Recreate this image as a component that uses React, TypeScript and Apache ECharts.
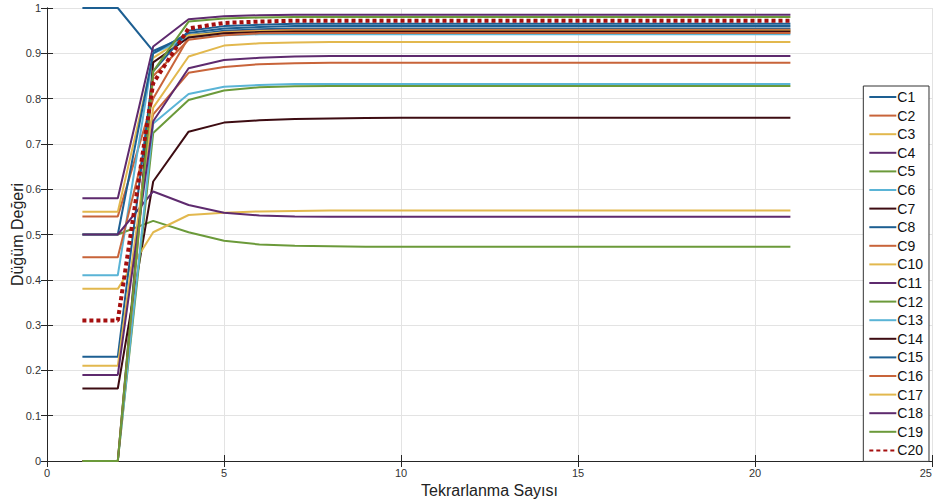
import React, { useEffect, useRef } from "react";
import * as echarts from "echarts";

const iterations = [1, 2, 3, 4, 5, 6, 7, 8, 9, 10, 11, 12, 13, 14, 15, 16, 17, 18, 19, 20, 21];

const C1 = [1, 1, 0.905, 0.94, 0.95, 0.953, 0.955, 0.955, 0.955, 0.955, 0.955, 0.955, 0.955, 0.955, 0.955, 0.955, 0.955, 0.955, 0.955, 0.955, 0.955];
const C2 = [0.54, 0.54, 0.8, 0.935, 0.947, 0.95, 0.952, 0.952, 0.952, 0.952, 0.952, 0.952, 0.952, 0.952, 0.952, 0.952, 0.952, 0.952, 0.952, 0.952, 0.952];
const C3 = [0.55, 0.55, 0.89, 0.94, 0.946, 0.949, 0.95, 0.95, 0.95, 0.95, 0.95, 0.95, 0.95, 0.95, 0.95, 0.95, 0.95, 0.95, 0.95, 0.95, 0.95];
const C4 = [0.58, 0.58, 0.915, 0.975, 0.982, 0.984, 0.985, 0.985, 0.985, 0.985, 0.985, 0.985, 0.985, 0.985, 0.985, 0.985, 0.985, 0.985, 0.985, 0.985, 0.985];
const C5 = [0.5, 0.5, 0.53, 0.505, 0.486, 0.478, 0.475, 0.474, 0.473, 0.473, 0.473, 0.473, 0.473, 0.473, 0.473, 0.473, 0.473, 0.473, 0.473, 0.473, 0.473];
const C6 = [0.41, 0.41, 0.9, 0.935, 0.94, 0.942, 0.942, 0.942, 0.942, 0.942, 0.942, 0.942, 0.942, 0.942, 0.942, 0.942, 0.942, 0.942, 0.942, 0.942, 0.942];
const C7 = [0.16, 0.16, 0.617, 0.727, 0.747, 0.752, 0.755, 0.756, 0.757, 0.758, 0.758, 0.758, 0.758, 0.758, 0.758, 0.758, 0.758, 0.758, 0.758, 0.758, 0.758];
const C8 = [0.5, 0.5, 0.9, 0.945, 0.955, 0.958, 0.96, 0.96, 0.96, 0.96, 0.96, 0.96, 0.96, 0.96, 0.96, 0.96, 0.96, 0.96, 0.96, 0.96, 0.96];
const C9 = [0.45, 0.45, 0.765, 0.857, 0.87, 0.876, 0.878, 0.879, 0.879, 0.879, 0.879, 0.879, 0.879, 0.879, 0.879, 0.879, 0.879, 0.879, 0.879, 0.879, 0.879];
const C10 = [0.38, 0.38, 0.505, 0.543, 0.548, 0.551, 0.552, 0.553, 0.553, 0.553, 0.553, 0.553, 0.553, 0.553, 0.553, 0.553, 0.553, 0.553, 0.553, 0.553, 0.553];
const C11 = [0.5, 0.5, 0.595, 0.565, 0.548, 0.542, 0.54, 0.539, 0.539, 0.539, 0.539, 0.539, 0.539, 0.539, 0.539, 0.539, 0.539, 0.539, 0.539, 0.539, 0.539];
const C12 = [0, 0, 0.724, 0.797, 0.818, 0.825, 0.827, 0.828, 0.828, 0.828, 0.828, 0.828, 0.828, 0.828, 0.828, 0.828, 0.828, 0.828, 0.828, 0.828, 0.828];
const C13 = [0, 0, 0.745, 0.81, 0.826, 0.83, 0.832, 0.832, 0.832, 0.832, 0.832, 0.832, 0.832, 0.832, 0.832, 0.832, 0.832, 0.832, 0.832, 0.832, 0.832];
const C14 = [0, 0, 0.88, 0.935, 0.944, 0.947, 0.948, 0.948, 0.948, 0.948, 0.948, 0.948, 0.948, 0.948, 0.948, 0.948, 0.948, 0.948, 0.948, 0.948, 0.948];
const C15 = [0.23, 0.23, 0.86, 0.95, 0.96, 0.963, 0.965, 0.965, 0.965, 0.965, 0.965, 0.965, 0.965, 0.965, 0.965, 0.965, 0.965, 0.965, 0.965, 0.965, 0.965];
const C16 = [0, 0, 0.85, 0.93, 0.94, 0.944, 0.945, 0.945, 0.945, 0.945, 0.945, 0.945, 0.945, 0.945, 0.945, 0.945, 0.945, 0.945, 0.945, 0.945, 0.945];
const C17 = [0.21, 0.21, 0.78, 0.893, 0.917, 0.922, 0.924, 0.925, 0.925, 0.925, 0.925, 0.925, 0.925, 0.925, 0.925, 0.925, 0.925, 0.925, 0.925, 0.925, 0.925];
const C18 = [0.19, 0.19, 0.75, 0.867, 0.885, 0.89, 0.893, 0.894, 0.894, 0.894, 0.894, 0.894, 0.894, 0.894, 0.894, 0.894, 0.894, 0.894, 0.894, 0.894, 0.894];
const C19 = [0, 0, 0.86, 0.97, 0.977, 0.979, 0.98, 0.98, 0.98, 0.98, 0.98, 0.98, 0.98, 0.98, 0.98, 0.98, 0.98, 0.98, 0.98, 0.98, 0.98];
const C20 = [0.31, 0.31, 0.834, 0.955, 0.967, 0.97, 0.972, 0.972, 0.972, 0.972, 0.972, 0.972, 0.972, 0.972, 0.972, 0.972, 0.972, 0.972, 0.972, 0.972, 0.972];

const seriesNames = ["C1", "C2", "C3", "C4", "C5", "C6", "C7", "C8", "C9", "C10", "C11", "C12", "C13", "C14", "C15", "C16", "C17", "C18", "C19", "C20"];
const seriesValues = [C1, C2, C3, C4, C5, C6, C7, C8, C9, C10, C11, C12, C13, C14, C15, C16, C17, C18, C19, C20];

const cycleColors = ["#1d5f92", "#c8643a", "#e2b84e", "#5e2a6e", "#6b9a3a", "#5ab4d6", "#3d0c12"];
const c20Color = "#a50f0f";

const xTicks = { min: 0, max: 25, interval: 5 };
const yTicks = { min: 0, max: 1, interval: 0.1 };

const FONT = "'Liberation Sans Narrow', 'Liberation Sans', Arial, sans-serif";

export default function App() {
  const ref = useRef<HTMLDivElement>(null);
  useEffect(() => {
    if (!ref.current) return;
    const chart = echarts.init(ref.current, null, { renderer: "svg" });
    const series = seriesNames.map((name, i) => {
      const isLast = name === "C20";
      const color = isLast ? c20Color : cycleColors[i % 7];
      return {
        name,
        type: "line",
        data: iterations.map((x, k) => [x, seriesValues[i][k]]),
        showSymbol: false,
        symbol: "none",
        color,
        lineStyle: isLast
          ? { color, width: 4, type: [4, 3] }
          : { color, width: 2 },
        z: isLast ? 5 : 3,
      };
    });
    const axisLine = { show: true, lineStyle: { color: "#262626", width: 1 } };
    chart.setOption({
      animation: false,
      backgroundColor: "#ffffff",
      grid: { left: 47, right: 4, top: 8, bottom: 43, containLabel: false, outerBoundsMode: "none" },
      legend: {
        orient: "vertical",
        right: 7,
        top: 86,
        data: seriesNames,
        itemWidth: 27,
        itemHeight: 14,
        itemGap: 4.6,
        itemStyle: { opacity: 0 },
        backgroundColor: "#ffffff",
        borderColor: "#333333",
        borderWidth: 1,
        padding: [4, 6, 4, 5],
        textStyle: { fontFamily: "'Liberation Sans', Arial, sans-serif", fontSize: 14, color: "#111", padding: [0, 0, 0, -4] },
      },
      xAxis: [
        {
          type: "value",
          min: xTicks.min,
          max: xTicks.max,
          interval: xTicks.interval,
          name: "Tekrarlanma Sayısı",
          nameLocation: "middle",
          nameGap: 21,
          nameMoveOverlap: false,
          nameTextStyle: { fontFamily: FONT, fontSize: 16, color: "#222" },
          axisLine,
          axisTick: { show: true, inside: true, length: 6, lineStyle: { color: "#262626" } },
          axisLabel: { fontFamily: FONT, fontSize: 11, color: "#333", margin: 6, alignMaxLabel: "right" },
          splitLine: { show: true, lineStyle: { color: "#e3e3e3", width: 1 } },
        },
        {
          type: "value",
          position: "top",
          min: xTicks.min,
          max: xTicks.max,
          interval: xTicks.interval,
          axisLine,
          axisTick: { show: true, inside: true, length: 6, lineStyle: { color: "#262626" } },
          axisLabel: { show: false },
          splitLine: { show: false },
        },
      ],
      yAxis: [
        {
          type: "value",
          min: yTicks.min,
          max: yTicks.max,
          interval: yTicks.interval,
          name: "Düğüm Değeri",
          nameLocation: "middle",
          nameGap: 22,
          nameMoveOverlap: false,
          nameTextStyle: { fontFamily: FONT, fontSize: 16, color: "#222" },
          axisLine,
          axisTick: { show: true, inside: true, length: 6, lineStyle: { color: "#262626" } },
          axisLabel: { fontFamily: FONT, fontSize: 11, color: "#333", margin: 6 },
          splitLine: { show: true, lineStyle: { color: "#e3e3e3", width: 1 } },
        },
        {
          type: "value",
          position: "right",
          min: yTicks.min,
          max: yTicks.max,
          interval: yTicks.interval,
          axisLine,
          axisTick: { show: true, inside: true, length: 6, lineStyle: { color: "#262626" } },
          axisLabel: { show: false },
          splitLine: { show: false },
        },
      ],
      series,
    });
    return () => chart.dispose();
  }, []);
  return <div ref={ref} style={{ width: 936, height: 504, position: "absolute", left: 0, top: 0 }} />;
}
